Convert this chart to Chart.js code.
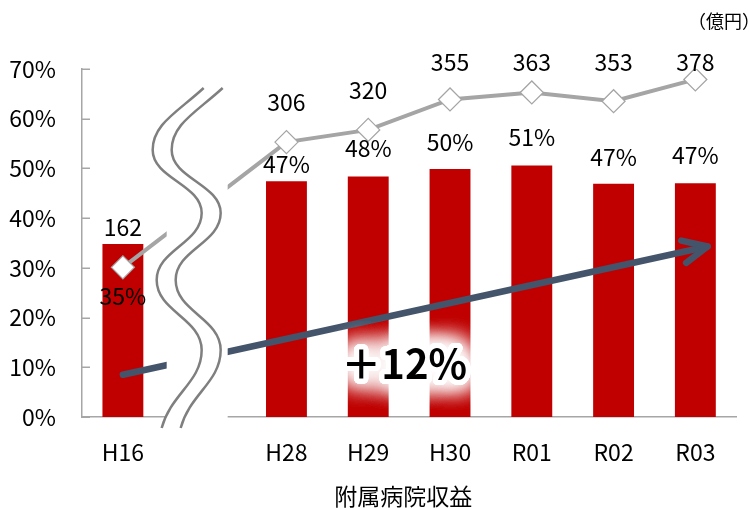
<!DOCTYPE html>
<html>
<head>
<meta charset="utf-8">
<script src="https://cdn.jsdelivr.net/npm/chart.js@4.4.1/dist/chart.umd.min.js"></script>
<style>
  html, body { margin: 0; padding: 0; background: #ffffff; }
  #wrap { position: relative; width: 749px; height: 508px; }
</style>
</head>
<body>
<div id="wrap"><canvas id="c" width="749" height="508"></canvas></div>
<script>
// ---- data ----
const categories = ['H16', '', 'H28', 'H29', 'H30', 'R01', 'R02', 'R03'];
const ratioValues = [34.8, null, 47.4, 48.4, 49.9, 50.6, 46.9, 47.0];     // 附属病院収益 ratio (%)
const revenueValues = [162, null, 306, 320, 355, 363, 353, 378];        // 附属病院収益 (億円)
const yTickLabels = ['0%', '10%', '20%', '30%', '40%', '50%', '60%', '70%'];
const axisTitle = '附属病院収益';
const unitLabel = '（億円）';
const growthLabel = '＋12%';

const FONT = '"Noto Sans CJK JP", "Noto Sans", sans-serif';
const LABEL_SIZE = 23;

const decor = {
  id: 'decor',
  afterDatasetsDraw(chart, args, o) {
    const { ctx, chartArea: ca, scales } = chart;
    const x = scales.x, y = scales.y;
    ctx.save();

    // inside tick marks on the value axis
    ctx.strokeStyle = '#A6A6A6';
    ctx.lineWidth = 1.5;
    y.ticks.forEach(t => {
      const py = Math.round(y.getPixelForValue(t.value)) + 0.25;
      ctx.beginPath();
      ctx.moveTo(ca.left, py);
      ctx.lineTo(ca.left + 8, py);
      ctx.stroke();
    });

    // trend arrow
    const ax0 = x.getPixelForValue(o.arrow.from[0]), ay0 = y.getPixelForValue(o.arrow.from[1]);
    const ax1 = x.getPixelForValue(o.arrow.to[0]), ay1 = y.getPixelForValue(o.arrow.to[1]);
    ctx.strokeStyle = '#44546A';
    ctx.lineWidth = 6.5;
    ctx.lineCap = 'round';
    ctx.lineJoin = 'round';
    ctx.beginPath();
    ctx.moveTo(ax0, ay0);
    ctx.lineTo(ax1, ay1);
    ctx.stroke();
    const ang = Math.atan2(ay0 - ay1, ax0 - ax1);
    const hl = 27, ha = 25 * Math.PI / 180;
    ctx.beginPath();
    ctx.moveTo(ax1 + hl * Math.cos(ang + ha), ay1 + hl * Math.sin(ang + ha));
    ctx.lineTo(ax1, ay1);
    ctx.lineTo(ax1 + hl * Math.cos(ang - ha), ay1 + hl * Math.sin(ang - ha));
    ctx.stroke();
    ctx.lineCap = 'butt';

    // axis break
    const cx = x.getPixelForValue(1);
    ctx.fillStyle = '#ffffff';
    ctx.fillRect(cx - 38, ca.top, 61, ca.bottom - ca.top + 3);
    const t = ca.top, b = ca.bottom;
    const drawWave = (dx) => {
      const S = [cx - 1 + dx, t + 19];
      const L1 = [cx - 52 + dx, t + 81];
      const R1 = [cx - 3 + dx, t + 144];
      const L2 = [cx - 48 + dx, t + 211];
      const R2 = [cx - 3 + dx, t + 281];
      const E = [cx - 43 + dx, b + 11];
      ctx.beginPath();
      ctx.moveTo(S[0], S[1]);
      ctx.bezierCurveTo(S[0] - 26, S[1] + 24, L1[0], L1[1] - 26, L1[0], L1[1]);
      const seg = (P, Q) => {
        const k = (Q[1] - P[1]) * 0.45;
        ctx.bezierCurveTo(P[0], P[1] + k, Q[0], Q[1] - k, Q[0], Q[1]);
      };
      seg(L1, R1);
      seg(R1, L2);
      seg(L2, R2);
      ctx.bezierCurveTo(R2[0], R2[1] + 32, E[0] + 9, E[1] - 34, E[0], E[1]);
      ctx.stroke();
    };
    ctx.strokeStyle = '#7F7F7F';
    ctx.lineWidth = 2.5;
    drawWave(0);
    drawWave(19);

    // growth label with white glow
    const gx = x.getPixelForValue(o.growth[0]), gy = y.getPixelForValue(o.growth[1]);
    ctx.font = 'bold 40px ' + FONT;
    ctx.textAlign = 'center';
    ctx.textBaseline = 'middle';
    ctx.shadowColor = 'rgba(255,255,255,1)';
    ctx.shadowBlur = 24;
    ctx.fillStyle = '#ffffff';
    ctx.strokeStyle = '#ffffff';
    ctx.lineWidth = 10;
    for (let k = 0; k < 4; k++) {
      ctx.strokeText(growthLabel, gx, gy);
    }
    ctx.shadowBlur = 0;
    ctx.shadowColor = 'rgba(0,0,0,0)';
    ctx.fillStyle = '#000000';
    ctx.fillText(growthLabel, gx, gy);

    // data labels
    ctx.font = LABEL_SIZE + 'px ' + FONT;
    ctx.fillStyle = '#000000';
    const barMeta = chart.getDatasetMeta(0);
    barMeta.data.forEach((el, i) => {
      const v = ratioValues[i];
      if (v === null) return;
      const off = o.barLabelOffsets[i];
      ctx.fillText(Math.round(v) + '%', el.x, el.y - off);
    });
    const lineMeta = chart.getDatasetMeta(1);
    lineMeta.data.forEach((el, i) => {
      const v = revenueValues[i];
      if (v === null) return;
      const ly = Math.max(el.y - 40, ca.top - 6.5);
      ctx.fillText(String(v), el.x, ly);
    });

    // axis title and unit
    ctx.font = '23px ' + FONT;
    ctx.fillText(axisTitle, (ca.left + ca.right) / 2 - 6, 496);
    ctx.font = '18px ' + FONT;
    ctx.textAlign = 'left';
    ctx.fillText(unitLabel, 688, 21.5);

    ctx.restore();
  }
};

new Chart(document.getElementById('c'), {
  data: {
    labels: categories,
    datasets: [
      {
        type: 'bar',
        data: ratioValues,
        backgroundColor: '#C00000',
        borderWidth: 0,
        barPercentage: 0.5,
        categoryPercentage: 1.0,
        yAxisID: 'y',
        order: 2
      },
      {
        type: 'line',
        data: revenueValues,
        borderColor: '#A5A5A5',
        borderWidth: 4,
        pointStyle: 'rectRot',
        pointRadius: 11.5,
        pointBackgroundColor: '#ffffff',
        pointBorderColor: '#A5A5A5',
        pointBorderWidth: 1.25,
        spanGaps: true,
        tension: 0,
        yAxisID: 'y2',
        order: 1
      }
    ]
  },
  options: {
    responsive: false,
    animation: false,
    devicePixelRatio: 1,
    layout: { padding: { top: 69, right: 4, left: 0, bottom: 0 } },
    plugins: {
      legend: { display: false },
      tooltip: { enabled: false },
      decor: {
        arrow: { from: [0, 8.5], to: [7.15, 34.3] },
        growth: [3.44, 10.8],
        barLabelOffsets: [-52, 0, 17, 28, 27, 28, 27, 28]
      }
    },
    scales: {
      x: {
        type: 'category',
        offset: true,
        grid: { display: false, drawTicks: false },
        border: { display: true, color: '#A6A6A6', width: 1.5 },
        ticks: { color: '#000000', font: { family: FONT, size: LABEL_SIZE }, padding: 21, maxRotation: 0, autoSkip: false },
        afterFit(s) { s.height = 91; }
      },
      y: {
        min: 0,
        max: 70,
        grid: { display: false, drawTicks: false },
        border: { display: true, color: '#A6A6A6', width: 1.5 },
        ticks: {
          stepSize: 10,
          color: '#000000',
          font: { family: FONT, size: LABEL_SIZE },
          padding: 26,
          callback: (v, i) => yTickLabels[i]
        },
        afterFit(s) { s.width = 82; }
      },
      y2: {
        display: false,
        position: 'right',
        min: -10,
        max: 390
      }
    }
  },
  plugins: [decor]
});
</script>
</body>
</html>
